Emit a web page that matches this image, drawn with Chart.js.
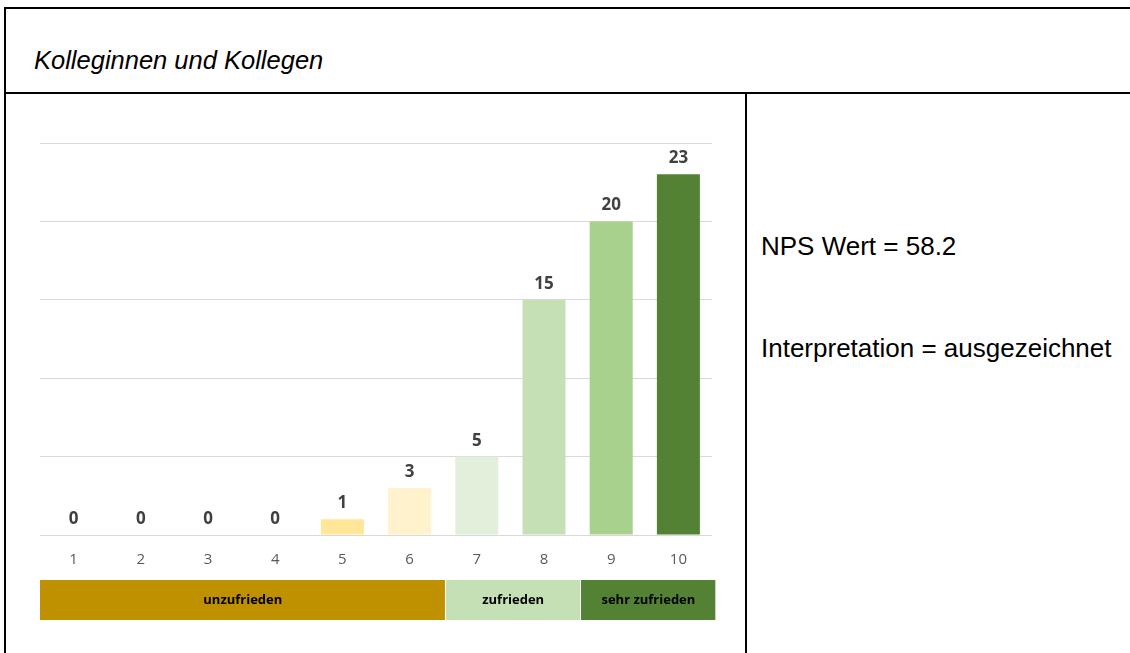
<!DOCTYPE html>
<html>
<head>
<meta charset="utf-8">
<script src="https://cdn.jsdelivr.net/npm/chart.js@4.4.1/dist/chart.umd.min.js"></script>
<style>
    body { margin: 0; width: 1130px; height: 653px; background: #fff; overflow: hidden; position: relative; font-family: "Liberation Sans", Arial, sans-serif; }
    .line { position: absolute; background: #000; }
    .txt { position: absolute; color: #000; white-space: nowrap; line-height: 30px; }
    #balken { position: absolute; left: 40px; top: 135px; }
    #gruppen { position: absolute; left: 40px; top: 580px; }
</style>
</head>
<body>
<div class="line" style="left:4px; top:7px; width:1130px; height:2px;"></div>
<div class="line" style="left:4px; top:7px; width:2px; height:650px;"></div>
<div class="line" style="left:4px; top:92px; width:1130px; height:2px;"></div>
<div class="line" style="left:745px; top:92px; width:2px; height:565px;"></div>

<div class="txt" style="left:34px; top:45px; font-size:25.5px; font-style:italic;">Kolleginnen und Kollegen</div>
<div class="txt" style="left:761px; top:231px; font-size:26px;">NPS Wert = 58.2</div>
<div class="txt" style="left:761px; top:333px; font-size:26px;">Interpretation = ausgezeichnet</div>

<canvas id="balken" width="672" height="456"></canvas>
<canvas id="gruppen" width="676" height="40"></canvas>

<script>
// Werte
const noten = ['1', '2', '3', '4', '5', '6', '7', '8', '9', '10'];
const anzahl = [0, 0, 0, 0, 1, 3, 5, 15, 20, 23];
const farben = ['#FFE699', '#FFE699', '#FFE699', '#FFE699', '#FFE699', '#FFF2CC', '#E2EFDA', '#C5E0B4', '#A9D18E', '#548235'];

const gruppenNamen = ['unzufrieden', 'zufrieden', 'sehr zufrieden'];
const gruppenBreite = [6, 2, 2];
const gruppenFarben = ['#BF9000', '#C5E0B4', '#548235'];

// Zahlen über den Balken
const werteOben = {
    id: 'werteOben',
    afterDatasetsDraw(chart) {
        const ctx = chart.ctx;
        const meta = chart.getDatasetMeta(0);
        ctx.save();
        ctx.font = 'bold 17px "Open Sans", sans-serif';
        ctx.fillStyle = '#404040';
        ctx.textAlign = 'center';
        ctx.textBaseline = 'alphabetic';
        meta.data.forEach(function (bar, i) {
            ctx.fillText(anzahl[i], bar.x, bar.y - 11);
        });
        ctx.restore();
    }
};

new Chart(document.getElementById('balken'), {
    type: 'bar',
    data: {
        labels: noten,
        datasets: [{
            data: anzahl,
            backgroundColor: farben,
            barPercentage: 0.64,
            categoryPercentage: 1
        }]
    },
    options: {
        responsive: false,
        animation: false,
        layout: { padding: { top: 8, bottom: 6 } },
        plugins: { legend: { display: false }, tooltip: { enabled: false } },
        scales: {
            y: {
                min: 0,
                max: 25,
                ticks: { display: false, stepSize: 5 },
                border: { display: false },
                grid: { color: '#d9d9d9', drawTicks: false }
            },
            x: {
                border: { color: '#d9d9d9' },
                grid: { display: false, drawTicks: false },
                ticks: { color: '#595959', padding: 16, font: { size: 15, family: '"Open Sans", sans-serif' } }
            }
        }
    },
    plugins: [werteOben]
});

// Beschriftung der Gruppen
const gruppenText = {
    id: 'gruppenText',
    afterDatasetsDraw(chart) {
        const ctx = chart.ctx;
        ctx.save();
        ctx.font = 'bold 13px "Open Sans", sans-serif';
        ctx.fillStyle = '#000';
        ctx.textAlign = 'center';
        ctx.textBaseline = 'middle';
        chart.data.datasets.forEach(function (ds, i) {
            const el = chart.getDatasetMeta(i).data[0];
            ctx.fillText(ds.label, (el.x + el.base) / 2, el.y);
        });
        ctx.restore();
    }
};

new Chart(document.getElementById('gruppen'), {
    type: 'bar',
    data: {
        labels: [''],
        datasets: gruppenNamen.map(function (name, i) {
            return {
                label: name,
                data: [gruppenBreite[i]],
                backgroundColor: gruppenFarben[i],
                borderColor: '#ffffff',
                borderWidth: { left: 1, right: 1 },
                barPercentage: 1,
                categoryPercentage: 1
            };
        })
    },
    options: {
        indexAxis: 'y',
        responsive: false,
        animation: false,
        layout: { padding: 0 },
        plugins: { legend: { display: false }, tooltip: { enabled: false } },
        scales: {
            x: { stacked: true, min: 0, max: 10, display: false },
            y: { stacked: true, display: false }
        }
    },
    plugins: [gruppenText]
});
</script>
</body>
</html>
